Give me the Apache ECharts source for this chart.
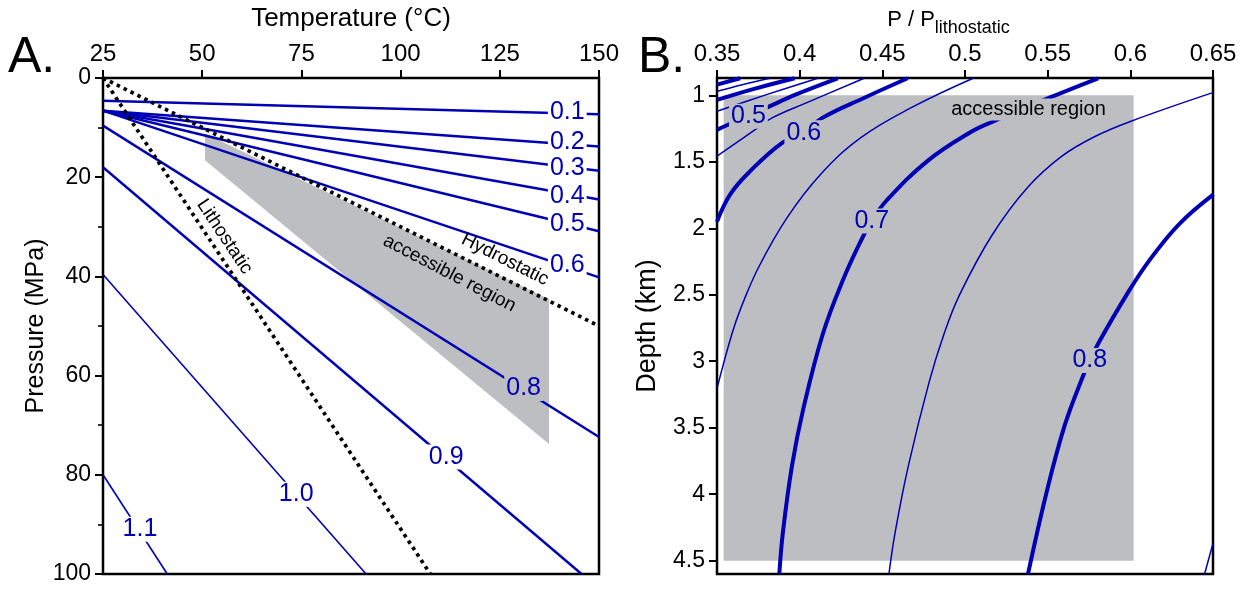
<!DOCTYPE html>
<html><head><meta charset="utf-8">
<script src="https://cdn.jsdelivr.net/npm/echarts@6/dist/echarts.min.js"></script>
<style>html,body{margin:0;padding:0;background:#fff}#c{width:1254px;height:590px}</style>
</head><body><div id="c"></div>
<script>
// ---------- Panel A data ----------
const tempTicks = [25, 50, 75, 100, 125, 150];
const pressureTicks = [0, 20, 40, 60, 80, 100];
const levelsA = ['0.1','0.2','0.3','0.4','0.5','0.6','0.8','0.9','1.0','1.1'];
const startT = [25, 25, 25, 25, 25, 25, 25, 25, 25, 25];
const startP = [4.6, 6.6, 6.6, 6.6, 6.6, 6.6, 9.6, 18.0, 39.6, 80.0];
const endT   = [150, 150, 150, 150, 150, 150, 150, 145.6, 91.3, 41.2];
const endP   = [7.3, 13.8, 18.7, 24.5, 30.9, 40.2, 72.4, 100, 100, 100];
const labelAT = [142, 142, 142, 142, 142, 142, 131, 111.5, 73.7, 34.3];
const labelAP = [6.9, 12.9, 18.1, 23.8, 29.5, 37.7, 62.6, 76.4, 83.9, 91.0];
const hydroT = [25, 150];
const hydroP = [0, 50];
const lithoT = [25, 107.5];
const lithoP = [0, 100];
const accessAT = [50.7, 137.4, 137.4, 50.7];
const accessAP = [16.6, 73.8, 44.6, 11.2];
const textA = ['Lithostatic', 'Hydrostatic', 'accessible region'];
const textAT = [55.6, 126.3, 112.3];
const textAP = [32.0, 36.6, 39.4];

// ---------- Panel B data ----------
const ratioTicks = [0.35, 0.4, 0.45, 0.5, 0.55, 0.6, 0.65];
const depthTicks = [1, 1.5, 2, 2.5, 3, 3.5, 4, 4.5];
const levelsB = ['0.3','0.35','0.4','0.45','0.5','0.55','0.6','0.65','0.7','0.75','0.8','0.85'];
const curveV = [
  [0.35, 0.364],
  [0.35, 0.3653, 0.382],
  [0.35, 0.373, 0.397],
  [0.35, 0.38, 0.411],
  [0.35, 0.357, 0.369, 0.382, 0.3975, 0.423],
  [0.35, 0.3733, 0.3833, 0.404, 0.439],
  [0.35, 0.358, 0.3701, 0.3894, 0.4025, 0.4137, 0.4389, 0.4653],
  [0.3502, 0.359, 0.3646, 0.3751, 0.3924, 0.4126, 0.4368, 0.4672, 0.5049],
  [0.3877, 0.3899, 0.3954, 0.4022, 0.414, 0.426, 0.438, 0.4436, 0.4523, 0.4772, 0.503, 0.5174, 0.5507, 0.5805],
  [0.454, 0.4578, 0.4658, 0.4783, 0.4873, 0.4969, 0.5167, 0.5377, 0.5586, 0.5786, 0.6004, 0.6494],
  [0.5381, 0.5494, 0.5603, 0.5711, 0.5755, 0.581, 0.598, 0.6113, 0.6294, 0.6503],
  [0.6449, 0.65]
];
const curveD = [
  [0.92, 0.872],
  [0.97, 0.92, 0.872],
  [1.035, 0.95, 0.872],
  [1.12, 0.995, 0.872],
  [1.26, 1.22, 1.157, 1.082, 0.995, 0.872],
  [1.457, 1.257, 1.17, 1.057, 0.872],
  [1.95, 1.745, 1.57, 1.357, 1.282, 1.17, 1.02, 0.872],
  [3.195, 2.795, 2.595, 2.295, 1.92, 1.595, 1.32, 1.095, 0.872],
  [4.6, 4.283, 3.783, 3.358, 2.795, 2.395, 2.07, 1.945, 1.795, 1.495, 1.28, 1.195, 1.02, 0.872],
  [4.6, 4.283, 3.783, 3.157, 2.795, 2.495, 2.045, 1.695, 1.458, 1.31, 1.195, 0.982],
  [4.6, 3.983, 3.483, 3.12, 2.995, 2.857, 2.495, 2.245, 1.97, 1.745],
  [4.6, 4.37]
];
const labelsB = ['0.5', '0.6', '0.7', '0.8'];
const labelBV = [0.369, 0.4025, 0.4436, 0.5755];
const labelBD = [1.157, 1.282, 1.945, 2.995];
const accessBV = [0.354, 0.602];
const accessBD = [1.0, 4.5];
const textB = ['accessible region'];
const textBV = [0.5384];
const textBD = [1.107];

// ---------- styling ----------
const FF = '"Liberation Sans", Arial, Helvetica, sans-serif';
const BLUE = '#0000b4';
const GRAY = '#bdbec1';

const chart = echarts.init(document.getElementById('c'), null, {renderer: 'canvas'});
const series = [];
const solid = {opacity: 1};

// Panel A accessible region polygon
series.push({
  type: 'custom', xAxisIndex: 0, yAxisIndex: 0, z: 1, silent: true,
  data: [[accessAT[0], accessAP[0]]],
  renderItem: function (params, api) {
    return {type: 'polygon', shape: {points: accessAT.map((t, i) => api.coord([t, accessAP[i]]))},
            style: {fill: GRAY}};
  }
});
// Panel A contour lines
levelsA.forEach((lv, i) => {
  series.push({
    type: 'line', xAxisIndex: 0, yAxisIndex: 0, z: 3, symbol: 'none', silent: true, animation: false,
    data: [[startT[i], startP[i]], [endT[i], endP[i]]],
    lineStyle: {color: BLUE, width: i >= 8 ? 1.6 : 2.4}
  });
});
// Hydrostatic / lithostatic dotted
[[hydroT, hydroP], [lithoT, lithoP]].forEach(([xs, ys]) => {
  series.push({
    type: 'line', xAxisIndex: 0, yAxisIndex: 0, z: 4, symbol: 'none', silent: true, animation: false,
    data: xs.map((x, i) => [x, ys[i]]),
    lineStyle: {color: '#000', width: 3.7, type: [3.5, 4.2], cap: 'butt'}
  });
});
// Panel A contour labels
series.push({
  type: 'scatter', xAxisIndex: 0, yAxisIndex: 0, z: 10, symbolSize: 0, silent: true, animation: false,
  itemStyle: solid,
  data: levelsA.map((lv, i) => ({value: [labelAT[i], labelAP[i]],
    label: {formatter: lv, backgroundColor: i === 6 ? GRAY : '#fff'}})),
  label: {show: true, position: 'inside', color: BLUE, opacity: 1, fontSize: 25, fontFamily: FF, padding: [0, 2]}
});
// Panel A text labels
const rotA = [-56.4, -26.6, -27.5];
series.push({
  type: 'scatter', xAxisIndex: 0, yAxisIndex: 0, z: 11, symbolSize: 0, silent: true, animation: false,
  itemStyle: solid,
  data: textA.map((t, i) => ({value: [textAT[i], textAP[i]], label: {formatter: t, rotate: rotA[i]}})),
  label: {show: true, position: 'inside', color: '#000', opacity: 1, fontSize: 19, fontFamily: FF}
});

// Panel B accessible region rectangle
series.push({
  type: 'custom', xAxisIndex: 1, yAxisIndex: 1, z: 1, silent: true,
  data: [[accessBV[0], accessBD[0]]],
  renderItem: function (params, api) {
    const p0 = api.coord([accessBV[0], accessBD[0]]);
    const p1 = api.coord([accessBV[1], accessBD[1]]);
    return {type: 'rect', shape: {x: p0[0], y: p0[1], width: p1[0] - p0[0], height: p1[1] - p0[1]},
            style: {fill: GRAY}};
  }
});
// Panel B contour curves
levelsB.forEach((lv, i) => {
  series.push({
    type: 'line', xAxisIndex: 1, yAxisIndex: 1, z: 3, symbol: 'none', silent: true, animation: false,
    smooth: 0.4,
    data: curveV[i].map((v, k) => [v, curveD[i][k]]),
    lineStyle: {color: BLUE, width: i % 2 === 0 ? 4 : 1.5}
  });
});
// Panel B labels
series.push({
  type: 'scatter', xAxisIndex: 1, yAxisIndex: 1, z: 10, symbolSize: 0, silent: true, animation: false,
  itemStyle: solid,
  data: labelsB.map((lv, i) => ({value: [labelBV[i], labelBD[i]], label: {formatter: lv}}))
    .concat(textB.map((t, i) => ({value: [textBV[i], textBD[i]],
      label: {formatter: t, color: '#000', fontSize: 20, padding: [1, 2]}}))),
  label: {show: true, position: 'inside', color: BLUE, opacity: 1, fontSize: 25, fontFamily: FF,
          backgroundColor: GRAY, padding: [0, 2]}
});

function axis(extra, labelSize) {
  return Object.assign({
    type: 'value',
    nameLocation: 'middle',
    axisLine: {show: false},
    splitLine: {show: false},
    nameTextStyle: {color: '#000', fontSize: 25, fontFamily: FF}
  }, extra, {
    axisLabel: Object.assign({color: '#000', fontSize: labelSize, fontFamily: FF, margin: 12}, extra.axisLabel || {}),
    axisTick: Object.assign({show: true, length: 8, lineStyle: {color: '#000', width: 2}}, extra.axisTick || {})
  });
}

const option = {
  animation: false,
  backgroundColor: '#fff',
  grid: [
    {left: 103, top: 78, width: 496, height: 496, show: true, borderColor: '#000', borderWidth: 2.5},
    {left: 717, top: 78, width: 496, height: 496, show: true, borderColor: '#000', borderWidth: 2.5}
  ],
  xAxis: [
    axis({gridIndex: 0, position: 'top', min: 25, max: 150,
      axisLabel: {customValues: tempTicks}, axisTick: {customValues: tempTicks},
      name: 'Temperature (°C)', nameGap: 46,
      nameTextStyle: {color: '#000', fontSize: 26, fontFamily: FF}}, 24),
    axis({gridIndex: 1, position: 'top', min: 0.35, max: 0.65,
      axisLabel: {customValues: ratioTicks}, axisTick: {customValues: ratioTicks},
      name: '{a|P / P}{b|lithostatic}', nameGap: 41,
      nameTextStyle: {color: '#000', fontFamily: FF, padding: [0, 33, 0, 0],
        rich: {a: {fontSize: 22, fontFamily: FF, color: '#000', verticalAlign: 'top', lineHeight: 23},
               b: {fontSize: 18, fontFamily: FF, color: '#000', verticalAlign: 'top', padding: [10, 0, 0, 0]}}}}, 24)
  ],
  yAxis: [
    axis({gridIndex: 0, min: 0, max: 100, interval: 20, inverse: true,
      minorTick: {show: true, splitNumber: 2, length: 5, lineStyle: {color: '#000', width: 1.6}},
      name: 'Pressure (MPa)', nameRotate: 90, nameGap: 53}, 23),
    axis({gridIndex: 1, min: 0.87, max: 4.6, inverse: true,
      axisLabel: {customValues: depthTicks}, axisTick: {customValues: depthTicks},
      name: 'Depth (km)', nameRotate: 90, nameGap: 56,
      nameTextStyle: {color: '#000', fontSize: 27, fontFamily: FF}}, 23)
  ],
  graphic: [
    {type: 'text', left: 8, top: 33, style: {text: 'A.', fontSize: 50, fontFamily: FF, fill: '#000'}},
    {type: 'text', left: 638, top: 33, style: {text: 'B.', fontSize: 50, fontFamily: FF, fill: '#000'}}
  ],
  series: series
};
chart.setOption(option);
</script>
</body></html>
